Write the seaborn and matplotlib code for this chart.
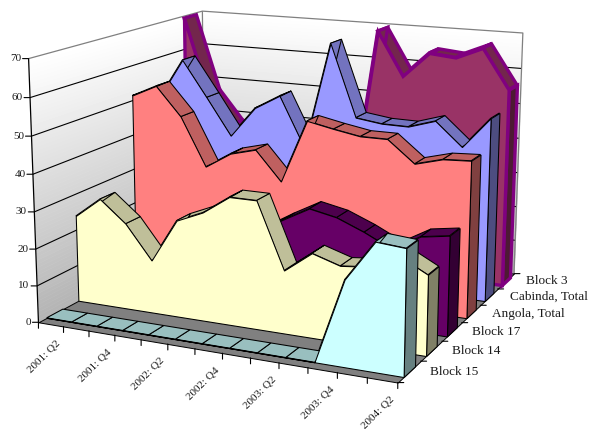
import numpy as np
import matplotlib
matplotlib.use("Agg")
import matplotlib.pyplot as plt
import seaborn as sns
from mpl_toolkits.mplot3d.art3d import Poly3DCollection, Line3DCollection
from mpl_toolkits.mplot3d import proj3d

# Quarterly production by block, front row first
quarters = ["2001: Q1", "2001: Q2", "2001: Q3", "2001: Q4", "2002: Q1", "2002: Q2", "2002: Q3",
            "2002: Q4", "2003: Q1", "2003: Q2", "2003: Q3", "2003: Q4", "2004: Q1", "2004: Q2"]
series_names = ["Block 15", "Block 14", "Block 17", "Angola, Total", "Cabinda, Total", "Block 3"]
block_15 = [0, 0, 0, 0, 0, 0, 0, 0, 0, 0, 0, 22.2, 32.6, 32.0]
block_14 = [24.0, 29.6, 23.7, 14.5, 26.4, 29.5, 34.5, 34.5, 16.9, 22.5, 20.2, 21.0, 24.9, 21.0]
block_17 = [0, 0, 0, 0, 8, 15, 21, 25.4, 29.4, 27.9, 24.9, 21.3, 25.6, 26.8]
angola_total = [51.5, 54.9, 46.8, 33.2, 37.7, 39.6, 31.4, 49.1, 47.6, 46.3, 46.3, 40.4, 42.4, 42.8]
cabinda_total = [48.2, 59.8, 49.5, 38.9, 47.7, 51.9, 37.6, 67.9, 47.7, 46.7, 46.6, 48.9, 42.4, 51.0]
block_3 = [69.4, 47.1, 38.3, 36, 35, 30, 27, 18, 69.6, 57.4, 64.5, 63.8, 67.0, 56.0]
all_series = [block_15, block_14, block_17, angola_total, cabinda_total, block_3]
fills = ["#CCFFFF", "#FFFFCC", "#660066", "#FF8080", "#9999FF", "#993366"]
z_ticks = [0, 10, 20, 30, 40, 50, 60, 70]

sns.set_theme(style="white", font="Liberation Serif")
plt.rcParams["font.family"] = ["Liberation Serif", "DejaVu Serif"]

W, H_PX = 589, 429
fig = plt.figure(figsize=(W / 100, H_PX / 100), dpi=100, facecolor="white")
ax = fig.add_axes([0, 0, 1, 1], projection="3d", computed_zorder=False)
ax.set_axis_off()
ax.apply_aspect = lambda *a, **k: None

# Camera: a perspective matrix solved from where the frame's corners and ticks sit on the canvas
n_x, n_s, z_top = len(quarters) - 1, len(series_names), z_ticks[-1]
frame = []
for i, px in enumerate([38, 63, 89, 115, 141, 168, 195, 223, 251, 279, 308, 337, 367, 397.7]):
    frame.append((i, 0, 0, px, 322 + (px - 38) * 0.1688))
for i, (px, py) in enumerate([(397.7, 382.7), (421.7, 360.7), (441.7, 341), (461.7, 323),
                              (480, 305), (496.7, 289), (514.5, 274.3)]):
    frame.append((n_x, i, 0, px, py))
for z, (px, py) in zip(z_ticks, [(38, 322), (37, 286), (35.5, 249), (35, 212),
                                 (33, 174.5), (32, 136.5), (30, 97.5), (28, 59)]):
    frame.append((0, 0, z, px, py))
frame += [(0, n_s, 70, 201.7, 10.7), (n_x, n_s, 70, 523, 33), (0, n_s, 60, 203, 43.3), (0, n_s, 50, 204, 76.7),
          (n_x, n_s, 60, 521.7, 68.3), (n_x, n_s, 50, 520, 103), (n_x, n_s, 40, 518.3, 138.3),
          (n_x, n_s, 30, 517.7, 172.7), (n_x, n_s, 20, 516.7, 206.7)]
rows, rhs = [], []
for X, Y, Z, u, v in frame:
    rows.append([X, Y, Z, 1, 0, 0, 0, 0, -u * X, -u * Y, -u * Z]); rhs.append(u)
    rows.append([0, 0, 0, 0, X, Y, Z, 1, -v * X, -v * Y, -v * Z]); rhs.append(v)
cam = np.append(np.linalg.lstsq(np.array(rows), np.array(rhs), rcond=None)[0], 1).reshape(3, 4)
canvas_to_data = ax.transData.inverted().get_matrix() @ np.array([[1, 0, 0], [0, -1, H_PX], [0, 0, 1]])
cam2d = canvas_to_data @ cam
M = np.array([cam2d[0], cam2d[1], [0, 1, 0, 0], cam2d[2]])
ax.get_proj = lambda: M
ax.M = M


def poly(verts, face, edge="black", lw=0.75, z=5):
    pc = Poly3DCollection(verts, facecolors=face, edgecolors=edge, linewidths=lw,
                          joinstyle="miter", zorder=z)
    ax.add_collection3d(pc, autolim=False)
    return pc


def lines(segments, colour, lw, z=3):
    lc = Line3DCollection(segments, colors=colour, linewidths=lw, zorder=z)
    ax.add_collection3d(lc, autolim=False)
    return lc


def screen(x, y, z):
    u, v, _ = proj3d.proj_transform(x, y, z, M)
    return float(u), float(v)


def tick(x, y, z, dx, dy):
    ax.annotate("", xy=screen(x, y, z), xytext=(dx, dy), textcoords="offset pixels",
                annotation_clip=False, zorder=4,
                arrowprops=dict(arrowstyle="-", lw=0.8, color="black", shrinkA=0, shrinkB=0))


def label(text, x, y, z, dx, dy, **kw):
    ax.annotate(text, xy=screen(x, y, z), xytext=(dx, dy), textcoords="offset pixels",
                annotation_clip=False, zorder=60, color="#1a1a1a", **kw)


# Walls with a vertical white-to-grey gradient
levels = np.linspace(0, z_top, 71)
ramp = sns.blend_palette(["#B4B4B4", "#FFFFFF"], len(levels) - 1)
for lo, hi, c in zip(levels[:-1], levels[1:], ramp):
    poly([[(0, 0, lo), (0, n_s, lo), (0, n_s, hi), (0, 0, hi)]], c, edge=c, lw=0.4, z=1)
    poly([[(0, n_s, lo), (n_x, n_s, lo), (n_x, n_s, hi), (0, n_s, hi)]], c, edge=c, lw=0.4, z=1)

# Floor
poly([[(0, 0, 0), (n_x, 0, 0), (n_x, n_s, 0), (0, n_s, 0)]], "#808080", lw=0.7, z=2)

# Gridlines and frame edges
grid = []
for z in z_ticks[1:-1]:
    grid.append([(0, 0, z), (0, n_s, z), (n_x, n_s, z)])
lines(grid, "black", 0.8)
lines([[(0, 0, z_top), (0, n_s, z_top), (n_x, n_s, z_top), (n_x, n_s, 0)], [(0, n_s, 0), (0, n_s, z_top)]],
      "#808080", 0.9)
lines([[(0, 0, 0), (0, 0, z_top)]], "black", 0.9)

# Tick marks and tick labels
for z in z_ticks:
    tick(0, 0, z, -6, 0)
    label(str(z), 0, 0, z, -7.5, 0, ha="right", va="center", fontsize=8)
for i in range(n_x + 1):
    tick(i, 0, 0, 0, -6)
for i, q in list(enumerate(quarters))[1::2]:
    label(q, i, 0, 0, -8, -12, ha="right", va="top", fontsize=8.0, rotation=45, rotation_mode="anchor")
for j in range(n_s + 1):
    tick(n_x, j, 0, 6, 0)
for j, name in enumerate(series_names):
    label(name, n_x, j + 0.5, 0, 20.5, 0, ha="left", va="center", fontsize=9.5)


def shade(colour, factor):
    return tuple(c * factor for c in matplotlib.colors.to_rgb(colour))


# Ribbons are painted from the back row to the front row
for j in reversed(range(n_s)):
    vals, base = all_series[j], fills[j]
    s0, s1 = j + 0.25, j + 0.75
    edge, lw = ("#800080", 2.4) if series_names[j] == "Block 3" else ("black", 0.75)
    z0 = 10 + 5 * (n_s - j)
    strips = [[(i, s0, vals[i]), (i + 1, s0, vals[i + 1]), (i + 1, s1, vals[i + 1]), (i, s1, vals[i])]
              for i in range(n_x)]
    poly(strips, shade(base, 0.75), edge=edge, lw=lw, z=z0)
    poly([[(n_x, s0, 0), (n_x, s1, 0), (n_x, s1, vals[-1]), (n_x, s0, vals[-1])]],
         shade(base, 0.5), edge=edge, lw=lw, z=z0 + 1)
    front = [(0, s0, 0)] + [(i, s0, v) for i, v in enumerate(vals)] + [(n_x, s0, 0)]
    poly([front], base, edge=edge, lw=lw, z=z0 + 2)

fig.savefig("out.png", dpi=100, facecolor="white")
